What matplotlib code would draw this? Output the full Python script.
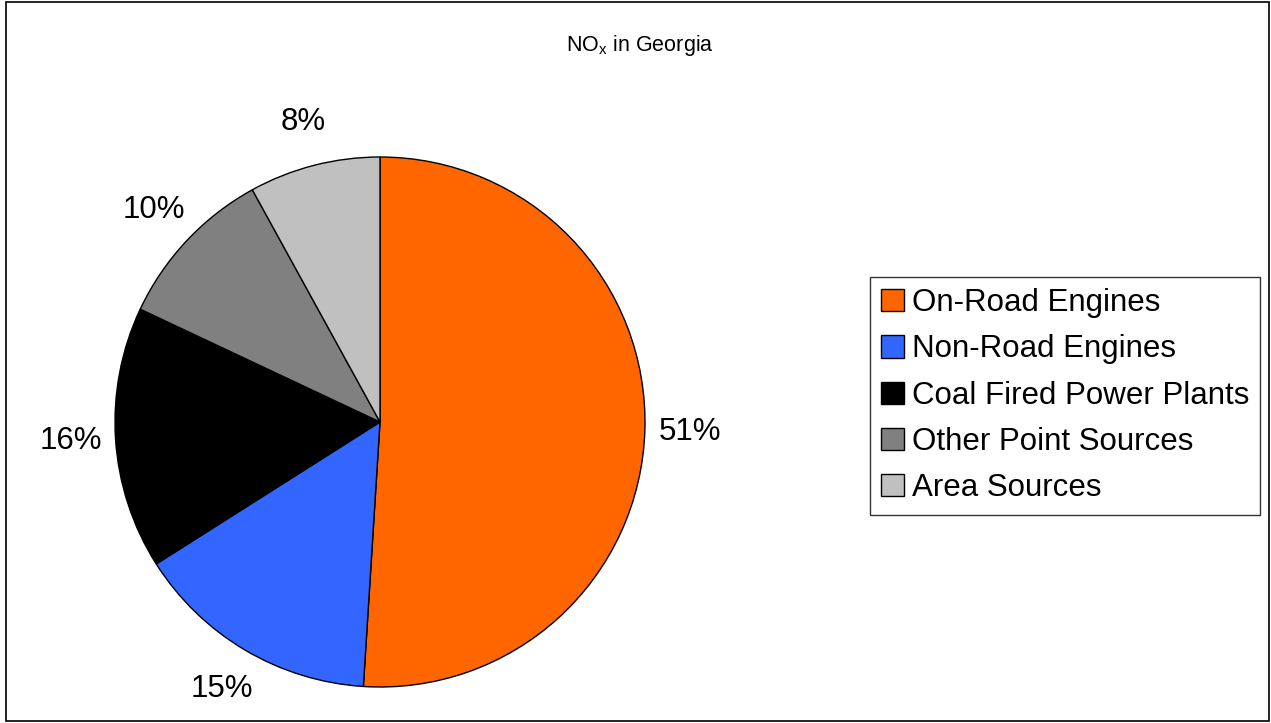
import matplotlib
matplotlib.use("Agg")
import matplotlib.pyplot as plt
from matplotlib.patches import Rectangle

# Datos del gráfico
categorias = ["On-Road Engines", "Non-Road Engines", "Coal Fired Power Plants",
              "Other Point Sources", "Area Sources"]
porcentajes = [51, 15, 16, 10, 8]
colores = ["#FF6600", "#3366FF", "#000000", "#808080", "#C0C0C0"]

plt.rcParams["font.family"] = ["Liberation Sans", "DejaVu Sans"]
plt.rcParams["mathtext.fontset"] = "custom"
plt.rcParams["mathtext.rm"] = "Liberation Sans"

W, H = 1271, 723
fig = plt.figure(figsize=(W / 100, H / 100), dpi=100)

# marco exterior
fig.patches.append(Rectangle((6 / W, 2 / H), 1263 / W, 719 / H, transform=fig.transFigure,
                             fill=False, edgecolor="black", linewidth=1.2))

cx, cy, r = 380, 422, 265
ax = fig.add_axes([(cx - r) / W, 1 - (cy + r) / H, 2 * r / W, 2 * r / H])

cuñas, textos = ax.pie(porcentajes, colors=colores, startangle=90, counterclock=False,
                       labels=[f"{p}%" for p in porcentajes], labeldistance=1.17,
                       wedgeprops=dict(edgecolor="black", linewidth=1),
                       textprops=dict(fontsize=22.5))
for t in textos:
    t.set_ha("center")
    t.set_va("center")
ax.set_xlim(-1, 1)
ax.set_ylim(-1, 1)
ax.set_aspect("equal")

fig.text(640 / W, 1 - 45 / H, r"NO$_\mathrm{x}$ in Georgia", ha="center", va="center", fontsize=15.5)

leg = fig.legend(cuñas, categorias, loc="upper left", bbox_to_anchor=(870 / W, 1 - 277 / H),
                 fontsize=22.5, frameon=True, fancybox=False, edgecolor="black",
                 handlelength=0.72, handleheight=0.72, handletextpad=0.25,
                 labelspacing=0.52, borderpad=0.36, borderaxespad=0)
leg.get_frame().set_linewidth(1)

fig.savefig("out.png", dpi=100)
